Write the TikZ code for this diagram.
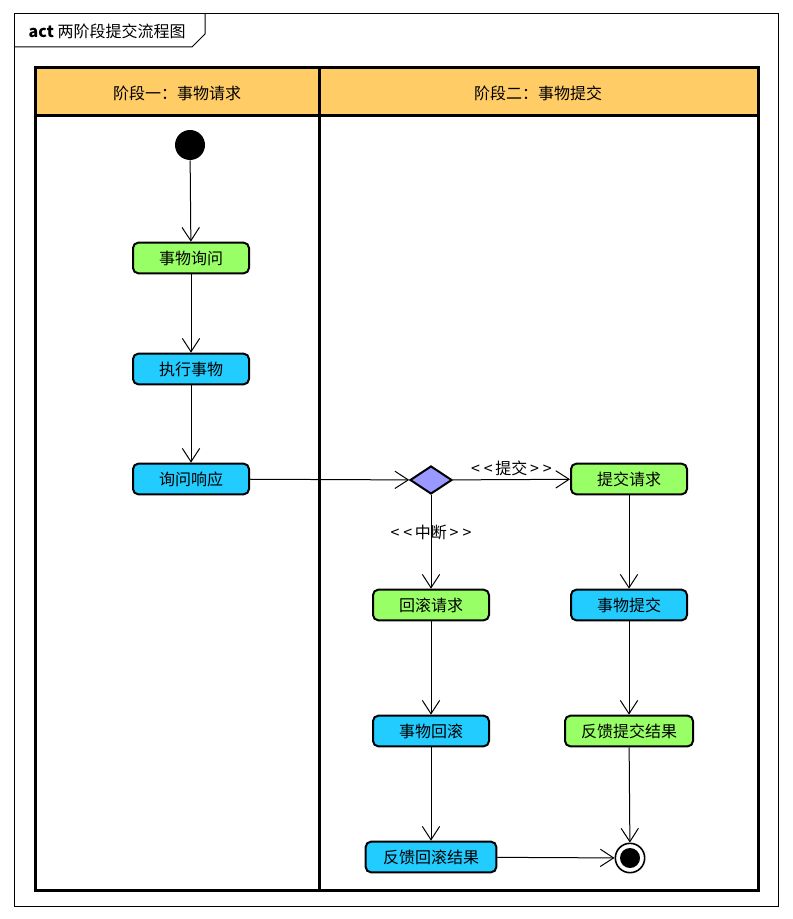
\documentclass[tikz,border=0pt]{standalone}
\usepackage{fontspec}
\setmainfont{Noto Sans CJK SC}
\usetikzlibrary{arrows.meta,shapes.geometric}
\definecolor{lanehead}{HTML}{FFCC66}
\definecolor{actgreen}{HTML}{99FF66}
\definecolor{actblue}{HTML}{22CCFF}
\definecolor{decfill}{HTML}{9999FF}

\begin{document}
\begin{tikzpicture}[x=0.75pt,y=-0.75pt,
  every node/.style={font=\fontsize{12}{14}\selectfont},
  act/.style={draw,line width=1.5pt,rounded corners=4pt,minimum width=87pt,minimum height=23pt,inner sep=2pt},
  flow/.style={-{Straight Barb[length=10pt,width=13pt]},line width=0.75pt}]
\useasboundingbox (0,0) rectangle (792,919);
% frame
\draw[line width=0.75pt] (14,14) rectangle (778,906);
\draw[line width=0.75pt] (14,47) -- (192,47) -- (205,34) -- (205,14);
\node[anchor=west] (title) at (24,31) {\textbf{act} 两阶段提交流程图};
% swimlanes
\fill[lanehead] (35,68) rectangle (758,116);
\draw[line width=2.25pt] (35,68) rectangle (758,890);
\draw[line width=2.25pt] (35,116) -- (758,116);
\draw[line width=2.25pt] (319,68) -- (319,890);
\node (lane1) at (177,93) {阶段一：事物请求};
\node (lane2) at (538,93) {阶段二：事物提交};
% nodes
\node[circle,fill=black,minimum size=22.5pt,inner sep=0pt] (start) at (190,145) {};
\node[act,fill=actgreen] (swxw) at (191,258) {事物询问};
\node[act,fill=actblue] (zxsw) at (191,369) {执行事物};
\node[act,fill=actblue] (xwxy) at (191,479) {询问响应};
\node[diamond,draw,line width=1.5pt,fill=decfill,minimum width=31.5pt,minimum height=21pt,inner sep=0pt] (dec) at (431,480) {};
\node[act,fill=actgreen] (tjqq) at (629,479) {提交请求};
\node[act,fill=actgreen] (hgqq) at (431,605) {回滚请求};
\node[act,fill=actblue] (swtj) at (629,605) {事物提交};
\node[act,fill=actblue] (swhg) at (431,731) {事物回滚};
\node[act,fill=actgreen,minimum width=96pt] (fktj) at (629,731) {反馈提交结果};
\node[act,fill=actblue,minimum width=98pt] (fkhg) at (431,857) {反馈回滚结果};
\node[circle,draw,line width=1.2pt,fill=white,minimum size=22pt,inner sep=0pt] (end) at (630,858) {};
\fill (end.center) circle (7.5pt);
% edges
\draw[flow] (start) -- (swxw);
\draw[flow] (swxw) -- (zxsw);
\draw[flow] (zxsw) -- (xwxy);
\draw[flow] (xwxy) -- (dec);
\draw[flow] (dec) -- node[above=-1pt] {<\hspace{3pt}<\hspace{2pt}提交\hspace{2pt}>\hspace{3pt}>} (tjqq);
\draw[flow] (dec) -- node[pos=0.4] {<\hspace{3pt}<\hspace{2pt}中断\hspace{2pt}>\hspace{3pt}>} (hgqq);
\draw[flow] (tjqq) -- (swtj);
\draw[flow] (swtj) -- (fktj);
\draw[flow] (fktj) -- (end);
\draw[flow] (hgqq) -- (swhg);
\draw[flow] (swhg) -- (fkhg);
\draw[flow] (fkhg) -- (end);
\end{tikzpicture}
\end{document}
